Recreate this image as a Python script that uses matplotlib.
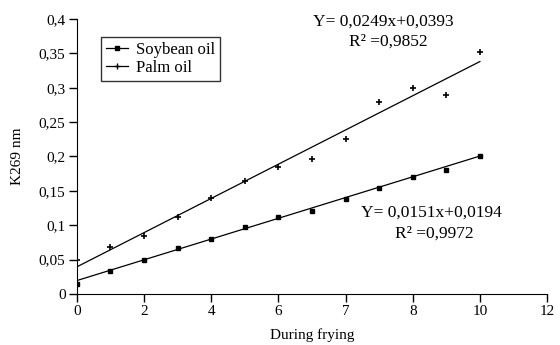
import matplotlib
matplotlib.use("Agg")
import matplotlib.pyplot as plt
from matplotlib.lines import Line2D
import numpy as np

plt.rcParams["font.family"] = ["Liberation Serif", "DejaVu Serif"]

# evenly spaced sample positions; the axis ticks sit on every second one
x_pos = [0, 1, 2, 3, 4, 5, 6, 7, 8, 9, 10, 11, 12]
tick_pos = [0, 2, 4, 6, 8, 10, 12, 14]
tick_labels = ["0", "2", "4", "6", "7", "8", "10", "12"]

soybean = [0.015, 0.033, 0.050, 0.067, 0.080, 0.097, 0.112, 0.121, 0.138,
           0.154, 0.170, 0.181, 0.201]
palm = [0.049, 0.068, 0.085, 0.112, 0.140, 0.164, 0.184, 0.197, 0.226,
        0.279, 0.299, 0.289, 0.352]

soy_fit = (0.0151, 0.0194)
palm_fit = (0.0249, 0.0393)

y_ticks = [0, 0.05, 0.1, 0.15, 0.2, 0.25, 0.3, 0.35, 0.4]
y_labels = ["0", "0,05", "0,1", "0,15", "0,2", "0,25", "0,3", "0,35", "0,4"]

fig = plt.figure(figsize=(5.6, 3.45), dpi=100)
ax = fig.add_axes([0.137, 0.148, 0.840, 0.797])

xs = np.array([x_pos[0], x_pos[-1]])
ax.plot(x_pos, soybean, "s", color="black", ms=3.5)
ax.plot(xs, np.polyval(soy_fit, xs), color="black", lw=0.9)
ax.plot(x_pos, palm, "+", color="black", ms=5, mew=1.2)
ax.plot(xs, np.polyval(palm_fit, xs), color="black", lw=0.9)

ax.set_xlim(0, 14)
ax.set_ylim(0, 0.4)
ax.set_xticks(tick_pos)
ax.set_xticklabels(tick_labels, fontsize=11)
ax.set_yticks(y_ticks)
ax.set_yticklabels(y_labels, fontsize=11)
ax.spines["top"].set_visible(False)
ax.spines["right"].set_visible(False)
ax.tick_params(direction="out", length=6, width=1, pad=2)
ax.set_xlabel("During frying", fontsize=11, labelpad=7)
ax.set_ylabel("K269 nm", fontsize=11, labelpad=11)

handles = [Line2D([], [], color="black", lw=0.9, marker="s", ms=2.5),
           Line2D([], [], color="black", lw=0.9, marker="+", ms=5)]
leg = ax.legend(handles, ["Soybean oil", "Palm oil"], loc="upper left",
                bbox_to_anchor=(0.052, 0.935), fontsize=12, frameon=True,
                fancybox=False, edgecolor="black", handlelength=1.3,
                borderpad=0.3, labelspacing=0.1, handletextpad=0.5,
                borderaxespad=0)
leg.get_frame().set_linewidth(1.0)

ax.text(0.651, 0.989, "Y= 0,0249x+0,0393", transform=ax.transAxes,
        ha="center", va="center", fontsize=12.5)
ax.text(0.662, 0.916, "R\u00b2 =0,9852", transform=ax.transAxes,
        ha="center", va="center", fontsize=12.5)
ax.text(0.755, 0.295, "Y= 0,0151x+0,0194", transform=ax.transAxes,
        ha="center", va="center", fontsize=12.5)
ax.text(0.760, 0.218, "R\u00b2 =0,9972", transform=ax.transAxes,
        ha="center", va="center", fontsize=12.5)

fig.savefig("out.png", dpi=100)
